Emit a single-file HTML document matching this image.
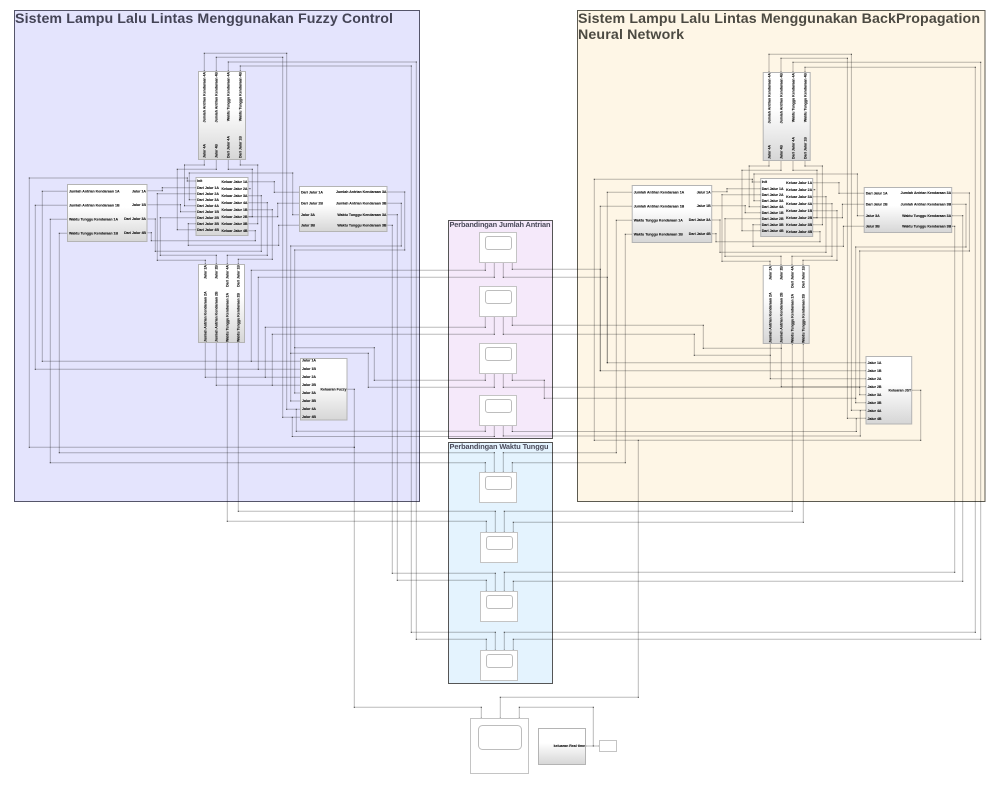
<!DOCTYPE html>
<html><head><meta charset="utf-8"><title>Sistem Lampu Lalu Lintas</title>
<style>
html,body{margin:0;padding:0;background:#fff;width:1008px;height:786px;overflow:hidden}
svg{display:block}
text{font-family:"Liberation Sans",sans-serif}
.w path,.w{fill:none;stroke:#000;stroke-opacity:.27;stroke-width:1;marker-start:url(#d);marker-mid:url(#d);marker-end:url(#d)}
.b{fill:url(#g);stroke:#b4b4b4;stroke-width:1}
.s{fill:#fff;stroke:#c4c4c4;stroke-width:1}
.i{fill:#fff;stroke:#bdbdbd;stroke-width:1}
.t text{font-size:3.55px;font-weight:bold;fill:#111;stroke:#111;stroke-width:.1}
.e{text-anchor:end}
.title{font-weight:bold;font-size:14.2px}
.sub{font-weight:bold;font-size:7.4px;fill:#4a4a5a}
</style></head><body>
<svg xmlns="http://www.w3.org/2000/svg" width="1008" height="786" viewBox="0 0 1008 786">
<defs>
<linearGradient id="g" x1="0" y1="0" x2="0" y2="1"><stop offset="0" stop-color="#fff"/><stop offset=".4" stop-color="#fff"/><stop offset="1" stop-color="#d6d6d6"/></linearGradient>
<marker id="d" markerUnits="userSpaceOnUse" markerWidth="2" markerHeight="2" refX="1" refY="1"><rect x=".5" y=".5" width="1" height="1" fill="#333"/></marker>
</defs>
<rect width="1008" height="786" fill="#fff"/>

<rect x="14.5" y="10.5" width="405" height="491" fill="#e4e4fd" stroke="#55556a" stroke-width="1"/>
<rect x="577.5" y="10.5" width="407.5" height="491" fill="#fef6e6" stroke="#5c5a50" stroke-width="1"/>
<rect x="448.5" y="220.5" width="104" height="218" fill="#f5e9fa" stroke="#555" stroke-width="1"/>
<rect x="448.5" y="442.5" width="104" height="241" fill="#e4f3fe" stroke="#555" stroke-width="1"/>

<text class="title" x="15" y="23" fill="#444456" textLength="378">Sistem Lampu Lalu Lintas Menggunakan Fuzzy Control</text>
<text class="title" x="578" y="23" fill="#4c4a42" textLength="402">Sistem Lampu Lalu Lintas Menggunakan BackPropagation</text>
<text class="title" x="578" y="39" fill="#4c4a42" textLength="106">Neural Network</text>
<text class="sub" x="449.5" y="227" textLength="101">Perbandingan Jumlah Antrian</text>
<text class="sub" x="449.5" y="449" textLength="99">Perbandingan Waktu Tunggu</text>

<!-- common wires: fuzzy -->
<g class="w">
<path d="M204.3 71V53.3H286.7V409.3H300.5"/>
<path d="M216.3 71V57.3H282.7V417.3H300.5"/>
<path d="M204.3 159V165H184.5V205.7H195.7"/>
<path d="M216.3 159V169.3H177.3V229.7H195.7"/>
<path d="M228.3 159V169.3H252.3V216.7H248"/>
<path d="M240.3 159V165H257.7V223.7H248"/>
<path d="M147 190.7H162.3V187.7H195.7"/>
<path d="M147 204.7H180.5V211.7H195.7"/>
<path d="M147 219H155.3V251.3H261.3V195.7H248"/>
<path d="M147 232.7H151.3V240.7H255.3V230.7H248"/>
<path d="M195.7 193.7H157.3V260.3H205.3V264"/>
<path d="M195.7 217.7H160.3V255.3H216.3V264"/>
<path d="M195.7 199.7H189.3V173H292.7V214.7H299.5"/>
<path d="M248 181.7H274.3V192.3H299.5"/>
<path d="M248 216.7H277.7V203.3H299.5"/>
<path d="M299.5 225.3H278.7V245.3H188.3V223.7H195.7"/>
<path d="M248 202.7H267.3V255.3H227.3V264"/>
<path d="M248 209.7H272.3V259.3H238.3V264"/>
<path d="M248 188.7H250"/>
<path d="M387 192H404.7V250H294.7V393H300.5"/>
<path d="M387 203.3H401.3V246H290.7V401H300.5"/>
<path d="M67.5 191.3H42.3V361.3H300.5"/>
<path d="M67.5 205.3H35.3V369.3H300.5"/>
<path d="M205.3 342V377.3H300.5"/>
<path d="M216.3 342V385.3H300.5"/>
</g>
<!-- common wires: JST -->
<g class="w" transform="translate(564.7,1)">
<path d="M204.3 71V53.3H286.7V409.3H301"/>
<path d="M216.3 71V57.3H282.7V417.3H301"/>
<path d="M204.3 159V165H184.5V205.7H195.7"/>
<path d="M216.3 159V169.3H177.3V229.7H195.7"/>
<path d="M228.3 159V169.3H252.3V216.7H248"/>
<path d="M240.3 159V165H257.7V223.7H248"/>
<path d="M147 190.7H162.3V187.7H195.7"/>
<path d="M147 204.7H180.5V211.7H195.7"/>
<path d="M147 219H155.3V251.3H261.3V195.7H248"/>
<path d="M147 232.7H151.3V240.7H255.3V230.7H248"/>
<path d="M195.7 193.7H157.3V260.3H205.3V264"/>
<path d="M195.7 217.7H160.3V255.3H216.3V264"/>
<path d="M195.7 199.7H189.3V173H292.7V214.7H299.5"/>
<path d="M248 181.7H274.3V192.3H299.5"/>
<path d="M248 216.7H277.7V203.3H299.5"/>
<path d="M299.5 225.3H278.7V245.3H188.3V223.7H195.7"/>
<path d="M248 202.7H267.3V255.3H227.3V264"/>
<path d="M248 209.7H272.3V259.3H238.3V264"/>
<path d="M248 188.7H250"/>
<path d="M387 192H404.7V250H295V393.7H301"/>
<path d="M387 203.3H401.3V246H291V401.7H301"/>
<path d="M67.5 191.3H42.6V361.7H301"/>
<path d="M67.5 205.3H35.6V369.7H301"/>
<path d="M205.6 342V377.7H301"/>
<path d="M216.6 342V385.7H301"/>
</g>
<!-- external wires -->
<g class="w">
<path d="M228.3 71V62H416.3V639.3H486.3V650.3"/>
<path d="M240.3 71V66H411.3V632.3H495.3V650.3"/>
<path d="M387 214.7H397.3V580.3H486.3V591.3"/>
<path d="M387 225.3H392.3V573.3H495.3V591.3"/>
<path d="M195.7 181H187.3V178H29.3V447.3H354.3V389.3H347"/>
<path d="M354.3 447.3V707.3H481.3V718.3"/>
<path d="M67.5 219.3H50.3V462.7H485.3V472.3"/>
<path d="M67.5 233.3H59.3V452.7H494.3V472.3"/>
<path d="M227.3 342V521.3H486.3V532.3"/>
<path d="M238.3 342V511.3H495.3V532.3"/>
<path d="M251.3 361.3V270.3H485.3V262.3"/>
<path d="M258.3 369.3V277.3H494.3V262.3"/>
<path d="M265.3 377.3V327.3H485.3V316.3"/>
<path d="M272.3 385.3V334.3H494.3V316.3"/>
<path d="M294.7 347.7H374.3V380.3H485.3V373.3"/>
<path d="M290.7 353.3H368.3V387.3H494.3V373.3"/>
<path d="M296.3 409.3V431.3H485.3V425.3"/>
<path d="M292.3 417.3V436.5H494.3V425.3"/>

<path d="M793 72V62.3H980.7V639.3H513.3V650.3"/>
<path d="M805 72V67.3H975.3V632.3H504.3V650.3"/>
<path d="M952 215.7H962.7V581.3H513.3V591.3"/>
<path d="M952 226.3H954.7V572.3H504.3V591.3"/>
<path d="M760.4 182H752.3V179.3H594.3V440.3H920.7V390.3H911.7"/>
<path d="M638.3 440.3V697.3H500.3V718.3"/>
<path d="M632.2 220.3H616.3V452.7H503.3V472.3"/>
<path d="M632.2 234.3H625.3V462.7H512.3V472.3"/>
<path d="M792.3 344V511.3H504.3V532.3"/>
<path d="M803.3 344V522.3H513.3V532.3"/>
<path d="M607.3 362.7V277.3H503.3V262.3"/>
<path d="M600.3 370.7V269.3H512.3V262.3"/>
<path d="M770.3 355.3H694.3V334.3H503.3V316.3"/>
<path d="M781.3 348.3H703.3V325.3H512.3V316.3"/>
<path d="M859.7 387.3H503.3V373.3"/>
<path d="M855.7 398.3H544.3V380.3H512.3V373.3"/>
<path d="M856.3 418.7V431.5H512.3V425.3"/>
<path d="M860.3 410.7V436H503.3V425.3"/>

<path d="M519.3 718.3V707.3H593.3V746"/>
<path d="M585.7 746H599.3"/>
</g>

<!-- comparison boxes -->
<g>
<rect class="s" x="479.5" y="232.5" width="37" height="30"/><rect class="i" x="485.5" y="236.5" width="26" height="13" rx="2.5"/>
<rect class="s" x="479.5" y="286.5" width="37" height="30"/><rect class="i" x="485.5" y="290.5" width="26" height="13" rx="2.5"/>
<rect class="s" x="479.5" y="343.5" width="37" height="30"/><rect class="i" x="485.5" y="347.5" width="26" height="13" rx="2.5"/>
<rect class="s" x="479.5" y="395.5" width="37" height="30"/><rect class="i" x="485.5" y="399.5" width="26" height="13" rx="2.5"/>
<rect class="s" x="479.5" y="472.5" width="37" height="30"/><rect class="i" x="485.5" y="476.5" width="26" height="13" rx="2.5"/>
<rect class="s" x="480.5" y="532.5" width="37" height="30"/><rect class="i" x="486.5" y="536.5" width="26" height="13" rx="2.5"/>
<rect class="s" x="480.5" y="591.5" width="37" height="30"/><rect class="i" x="486.5" y="595.5" width="26" height="13" rx="2.5"/>
<rect class="s" x="480.5" y="650.5" width="37" height="30"/><rect class="i" x="486.5" y="654.5" width="26" height="13" rx="2.5"/>
<rect class="s" x="470.5" y="718.5" width="58" height="55"/><rect class="i" x="478.5" y="725.5" width="43" height="24" rx="4"/>
<rect class="b" x="538.5" y="728.5" width="47" height="36"/>
<rect class="s" x="599.5" y="740.5" width="17" height="11"/>
</g>
<g class="t"><text class="e" x="585" y="747">keluaran Real time</text></g>

<!-- Fuzzy blocks -->
<g class="t">
<rect class="b" x="198.5" y="71.5" width="47" height="88"/>
<rect class="b" x="196" y="177.5" width="52" height="58"/>
<rect class="b" x="67.5" y="184.5" width="79.5" height="57"/>
<rect class="b" x="299.5" y="186.5" width="87.5" height="45"/>
<rect class="b" x="198.5" y="264.5" width="46" height="78"/>
<rect class="b" x="300.5" y="358.5" width="46.5" height="61.5"/>
<text x="69" y="192.5">Jumlah Antrian Kendaraan 1A</text><text x="69" y="206.5">Jumlah Antrian Kendaraan 1B</text><text x="69" y="220.5">Waktu Tunggu Kendaraan 1A</text><text x="69" y="234.5">Waktu Tunggu Kendaraan 1B</text>
<text class="e" x="146" y="192.5">Jalur 1A</text><text class="e" x="146" y="206">Jalur 1B</text><text class="e" x="146" y="220">Dari Jalur 3A</text><text class="e" x="146" y="234">Dari Jalur 4B</text>
<text x="197" y="182.2">Init</text><text x="197" y="188.9">Dari Jalur 1A</text><text x="197" y="194.9">Dari Jalur 2A</text><text x="197" y="200.9">Dari Jalur 3A</text><text x="197" y="206.9">Dari Jalur 4A</text><text x="197" y="212.9">Dari Jalur 1B</text><text x="197" y="218.9">Dari Jalur 2B</text><text x="197" y="224.9">Dari Jalur 3B</text><text x="197" y="230.9">Dari Jalur 4B</text>
<text class="e" x="247.5" y="182.9">Keluar Jalur 1A</text><text class="e" x="247.5" y="189.9">Keluar Jalur 2A</text><text class="e" x="247.5" y="196.9">Keluar Jalur 3A</text><text class="e" x="247.5" y="203.9">Keluar Jalur 4A</text><text class="e" x="247.5" y="210.9">Keluar Jalur 1B</text><text class="e" x="247.5" y="217.9">Keluar Jalur 2B</text><text class="e" x="247.5" y="224.9">Keluar Jalur 3B</text><text class="e" x="247.5" y="231.9">Keluar Jalur 4B</text>
<text x="301" y="193.5">Dari Jalur 1A</text><text x="301" y="204.5">Dari Jalur 2B</text><text x="301" y="215.9">Jalur 3A</text><text x="301" y="226.5">Jalur 3B</text>
<text class="e" x="386.5" y="193.2">Jumlah Antrian Kendaraan 3A</text><text class="e" x="386.5" y="204.5">Jumlah Antrian Kendaraan 3B</text><text class="e" x="386.5" y="215.9">Waktu Tunggu Kendaraan 3A</text><text class="e" x="386.5" y="226.5">Waktu Tunggu Kendaraan 3B</text>
<text class="e" transform="translate(205.6,72) rotate(-90)">Jumlah Antrian Kendaraan 4A</text><text class="e" transform="translate(217.6,72) rotate(-90)">Jumlah Antrian Kendaraan 4B</text><text class="e" transform="translate(229.6,72) rotate(-90)">Waktu Tunggu Kendaraan 4A</text><text class="e" transform="translate(241.6,72) rotate(-90)">Waktu Tunggu Kendaraan 4B</text>
<text transform="translate(205.6,158) rotate(-90)">Jalur 4A</text><text transform="translate(217.6,158) rotate(-90)">Jalur 4B</text><text transform="translate(229.6,158) rotate(-90)">Dari Jalur 4A</text><text transform="translate(241.6,158) rotate(-90)">Dari Jalur 1B</text>
<text class="e" transform="translate(206.6,265) rotate(-90)">Jalur 2A</text><text class="e" transform="translate(217.6,265) rotate(-90)">Jalur 2B</text><text class="e" transform="translate(228.6,265) rotate(-90)">Dari Jalur 4A</text><text class="e" transform="translate(239.6,265) rotate(-90)">Dari Jalur 1B</text>
<text transform="translate(206.6,342) rotate(-90)">Jumlah Antrian Kendaraan 2A</text><text transform="translate(217.6,342) rotate(-90)">Jumlah Antrian Kendaraan 2B</text><text transform="translate(228.6,342) rotate(-90)">Waktu Tunggu Kendaraan 2A</text><text transform="translate(239.6,342) rotate(-90)">Waktu Tunggu Kendaraan 2B</text>
<text x="302" y="361.5">Jalur 1A</text><text x="302" y="369.9">Jalur 1B</text><text x="302" y="377.9">Jalur 2A</text><text x="302" y="385.9">Jalur 2B</text><text x="302" y="393.9">Jalur 3A</text><text x="302" y="401.9">Jalur 3B</text><text x="302" y="409.9">Jalur 4A</text><text x="302" y="417.9">Jalur 4B</text>
<text class="e" x="346.5" y="390.5">Keluaran Fuzzy</text>
</g>

<!-- JST blocks -->
<g class="t" transform="translate(564.7,1)">
<rect class="b" x="198.5" y="71.5" width="47" height="88"/>
<rect class="b" x="196" y="177.5" width="52" height="58"/>
<rect class="b" x="67.5" y="184.5" width="79.5" height="57"/>
<rect class="b" x="299.5" y="186.5" width="87.5" height="45"/>
<rect class="b" x="198.5" y="264.5" width="46" height="78"/>
<text x="69" y="192.5">Jumlah Antrian Kendaraan 1A</text><text x="69" y="206.5">Jumlah Antrian Kendaraan 1B</text><text x="69" y="220.5">Waktu Tunggu Kendaraan 1A</text><text x="69" y="234.5">Waktu Tunggu Kendaraan 1B</text>
<text class="e" x="146" y="192.5">Jalur 1A</text><text class="e" x="146" y="206">Jalur 1B</text><text class="e" x="146" y="220">Dari Jalur 3A</text><text class="e" x="146" y="234">Dari Jalur 4B</text>
<text x="197" y="182.2">Init</text><text x="197" y="188.9">Dari Jalur 1A</text><text x="197" y="194.9">Dari Jalur 2A</text><text x="197" y="200.9">Dari Jalur 3A</text><text x="197" y="206.9">Dari Jalur 4A</text><text x="197" y="212.9">Dari Jalur 1B</text><text x="197" y="218.9">Dari Jalur 2B</text><text x="197" y="224.9">Dari Jalur 3B</text><text x="197" y="230.9">Dari Jalur 4B</text>
<text class="e" x="247.5" y="182.9">Keluar Jalur 1A</text><text class="e" x="247.5" y="189.9">Keluar Jalur 2A</text><text class="e" x="247.5" y="196.9">Keluar Jalur 3A</text><text class="e" x="247.5" y="203.9">Keluar Jalur 4A</text><text class="e" x="247.5" y="210.9">Keluar Jalur 1B</text><text class="e" x="247.5" y="217.9">Keluar Jalur 2B</text><text class="e" x="247.5" y="224.9">Keluar Jalur 3B</text><text class="e" x="247.5" y="231.9">Keluar Jalur 4B</text>
<text x="301" y="193.5">Dari Jalur 1A</text><text x="301" y="204.5">Dari Jalur 2B</text><text x="301" y="215.9">Jalur 3A</text><text x="301" y="226.5">Jalur 3B</text>
<text class="e" x="386.5" y="193.2">Jumlah Antrian Kendaraan 3A</text><text class="e" x="386.5" y="204.5">Jumlah Antrian Kendaraan 3B</text><text class="e" x="386.5" y="215.9">Waktu Tunggu Kendaraan 3A</text><text class="e" x="386.5" y="226.5">Waktu Tunggu Kendaraan 3B</text>
<text class="e" transform="translate(205.6,72) rotate(-90)">Jumlah Antrian Kendaraan 4A</text><text class="e" transform="translate(217.6,72) rotate(-90)">Jumlah Antrian Kendaraan 4B</text><text class="e" transform="translate(229.6,72) rotate(-90)">Waktu Tunggu Kendaraan 4A</text><text class="e" transform="translate(241.6,72) rotate(-90)">Waktu Tunggu Kendaraan 4B</text>
<text transform="translate(205.6,158) rotate(-90)">Jalur 4A</text><text transform="translate(217.6,158) rotate(-90)">Jalur 4B</text><text transform="translate(229.6,158) rotate(-90)">Dari Jalur 4A</text><text transform="translate(241.6,158) rotate(-90)">Dari Jalur 1B</text>
<text class="e" transform="translate(206.6,265) rotate(-90)">Jalur 2A</text><text class="e" transform="translate(217.6,265) rotate(-90)">Jalur 2B</text><text class="e" transform="translate(228.6,265) rotate(-90)">Dari Jalur 4A</text><text class="e" transform="translate(239.6,265) rotate(-90)">Dari Jalur 1B</text>
<text transform="translate(206.6,342) rotate(-90)">Jumlah Antrian Kendaraan 2A</text><text transform="translate(217.6,342) rotate(-90)">Jumlah Antrian Kendaraan 2B</text><text transform="translate(228.6,342) rotate(-90)">Waktu Tunggu Kendaraan 2A</text><text transform="translate(239.6,342) rotate(-90)">Waktu Tunggu Kendaraan 2B</text>
</g>
<g class="t">
<rect class="b" x="866" y="356.5" width="45.7" height="67.5"/>
<text x="867.5" y="363.9">Jalur 1A</text><text x="867.5" y="371.9">Jalur 1B</text><text x="867.5" y="379.9">Jalur 2A</text><text x="867.5" y="387.9">Jalur 2B</text><text x="867.5" y="395.9">Jalur 3A</text><text x="867.5" y="403.9">Jalur 3B</text><text x="867.5" y="411.9">Jalur 4A</text><text x="867.5" y="419.9">Jalur 4B</text>
<text class="e" x="911.2" y="391.5">Keluaran JST</text>
</g>
</svg>
</body></html>
